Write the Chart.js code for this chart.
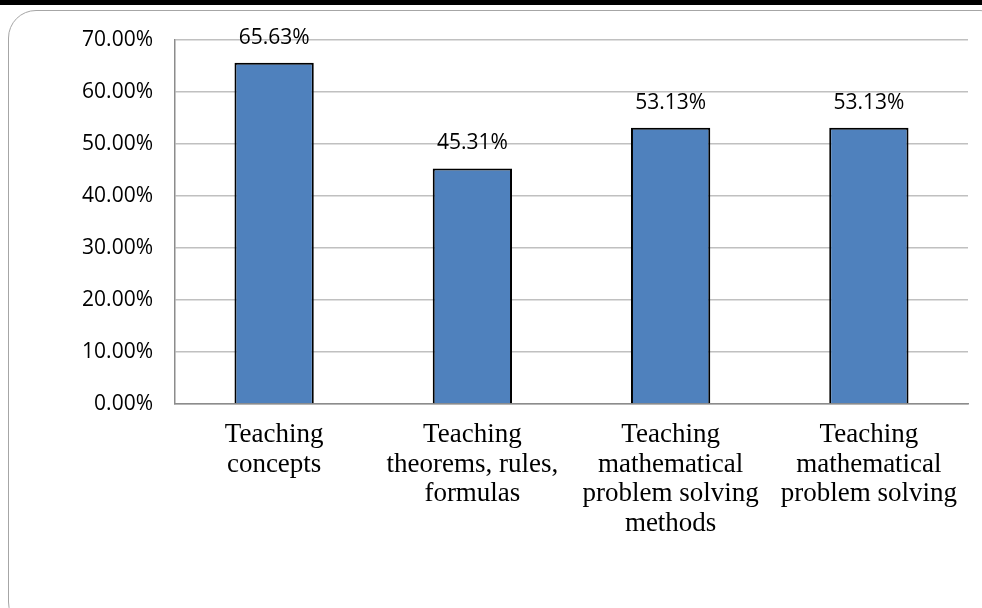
<!DOCTYPE html>
<html>
<head>
<meta charset="utf-8">
<script src="https://cdn.jsdelivr.net/npm/chart.js@4.4.1/dist/chart.umd.min.js"></script>
<style>
html,body{margin:0;padding:0;background:#fff;}
#wrap{position:relative;width:982px;height:608px;overflow:hidden;background:#fff;}
#strip{position:absolute;left:0;top:0;width:982px;height:5px;background:#000;}
#frame{position:absolute;left:8px;top:10px;width:1000px;height:620px;border:1.5px solid #a6a6a6;border-radius:28px;box-sizing:border-box;}
#c{position:absolute;left:0;top:0;}
</style>
</head>
<body>
<div id="wrap">
<div id="strip"></div>
<div id="frame"></div>
<canvas id="c" width="982" height="608"></canvas>
</div>
<script>
const categories = [
  ["Teaching","concepts"],
  ["Teaching","theorems, rules,","formulas"],
  ["Teaching","mathematical","problem solving","methods"],
  ["Teaching","mathematical","problem solving"]
];
const values = [65.63, 45.31, 53.13, 53.13];
const valueLabels = ["65.63%", "45.31%", "53.13%", "53.13%"];
const yTicks = [0, 10, 20, 30, 40, 50, 60, 70];

const labelPlugin = {
  id: 'valueLabels',
  afterDatasetsDraw(chart) {
    const ctx = chart.ctx;
    const meta = chart.getDatasetMeta(0);
    ctx.save();
    ctx.font = '21px "Open Sans"';
    ctx.fillStyle = '#000';
    ctx.textAlign = 'center';
    ctx.textBaseline = 'alphabetic';
    meta.data.forEach((bar, i) => {
      ctx.fillText(valueLabels[i], bar.x, bar.y - 19);
    });
    ctx.restore();
  }
};

new Chart(document.getElementById('c'), {
  type: 'bar',
  data: {
    labels: categories,
    datasets: [{
      data: values,
      backgroundColor: '#4F81BD',
      borderColor: '#000000',
      borderWidth: 2,
      barPercentage: 0.4,
      categoryPercentage: 1.0
    }]
  },
  options: {
    responsive: false,
    animation: false,
    devicePixelRatio: 1,
    layout: { padding: { left: 0, right: 14, top: 40, bottom: 0 } },
    plugins: { legend: { display: false }, tooltip: { enabled: false } },
    scales: {
      x: {
        grid: { display: false, drawTicks: false },
        border: { display: true, color: '#8c8c8c', width: 1.5 },
        ticks: {
          color: '#000',
          font: { family: '"Liberation Serif"', size: 27, lineHeight: 1.1 },
          padding: 16,
          maxRotation: 0,
          autoSkip: false
        },
        afterFit(scale) { scale.height = 204; }
      },
      y: {
        min: 0, max: 70,
        afterBuildTicks(scale) { scale.ticks = yTicks.map(v => ({ value: v })); },
        grid: { color: '#c0c0c0', lineWidth: 1.5, drawTicks: false },
        border: { display: true, color: '#8c8c8c', width: 1.5 },
        ticks: {
          color: '#000',
          font: { family: '"Open Sans"', size: 21 },
          padding: 22,
          callback: v => v.toFixed(2) + '%'
        },
        afterFit(scale) { scale.width = 175; }
      }
    }
  },
  plugins: [labelPlugin]
});
</script>
</body>
</html>
